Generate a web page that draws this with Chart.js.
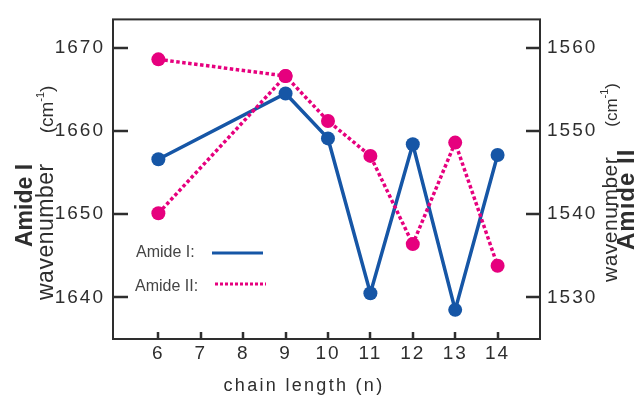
<!DOCTYPE html>
<html>
<head>
<meta charset="utf-8">
<script src="https://cdn.jsdelivr.net/npm/chart.js@4"></script>
<style>
  body { margin: 0; background: #fff; }
  canvas { display: block; }
</style>
</head>
<body>
<canvas id="chart" width="635" height="396"></canvas>
<script>
// chain length on x, Amide I on the left axis, Amide II on the right axis
const chainLength = [6, 9, 10, 11, 12, 13, 14];
const amideI = [1656.6, 1664.5, 1659.1, 1640.5, 1658.4, 1638.5, 1657.1];
const amideII = [1558.6, 1556.6, 1551.2, 1547.0, 1536.4, 1548.6, 1533.8];
// second Amide II branch (n = 6 low point joined to n = 9)
const amideIIBranchX = [6, 9];
const amideIIBranch = [1540.1, 1556.6];

const xTicks = [6, 7, 8, 9, 10, 11, 12, 13, 14];
const leftTicks = [1640, 1650, 1660, 1670];
const rightTicks = [1530, 1540, 1550, 1560];

const blue = '#1656a6';
const pink = '#e6007e';
const ink = '#2e2e2e';

function toPoints(xs, ys) {
  return xs.map((x, i) => ({ x: x, y: ys[i] }));
}

// tick labels in the picture are loosely spaced
const spacing = {
  id: 'spacing',
  beforeLayout(chart) { chart.ctx.letterSpacing = '2px'; },
  beforeDraw(chart) { chart.ctx.letterSpacing = '2px'; }
};

function rotatedText(ctx, text, x, y, font, letterSp) {
  ctx.save();
  ctx.translate(x, y);
  ctx.rotate(-Math.PI / 2);
  ctx.font = font;
  ctx.letterSpacing = letterSp || '0px';
  ctx.textAlign = 'left';
  ctx.textBaseline = 'alphabetic';
  ctx.fillText(text, 0, 0);
  const w = ctx.measureText(text).width;
  ctx.restore();
  return w;
}

// "wavenumber  (cm-1)" along a vertical baseline, going up from y
function wavenumberTitle(ctx, x, y, size) {
  let w = rotatedText(ctx, 'wavenumber', x, y, size + 'px "Liberation Sans", Arial', '0.5px');
  y -= w + 30;
  w = rotatedText(ctx, '(cm', x, y, (size - 4) + 'px "Liberation Sans", Arial');
  y -= w;
  w = rotatedText(ctx, '-1', x - 9, y, '11px "Liberation Sans", Arial');
  y -= w;
  rotatedText(ctx, ')', x, y, (size - 4) + 'px "Liberation Sans", Arial');
}

const decor = {
  id: 'decor',
  beforeDatasetsDraw(chart) {
    const { ctx, chartArea: a, scales } = chart;
    ctx.save();
    ctx.strokeStyle = ink;
    ctx.lineWidth = 2;
    ctx.strokeRect(a.left, a.top, a.right - a.left, a.bottom - a.top);

    ctx.lineWidth = 2.5;
    ctx.beginPath();
    leftTicks.forEach(v => {
      const y = Math.round(scales.yL.getPixelForValue(v));
      ctx.moveTo(a.left, y); ctx.lineTo(a.left + 15, y);
    });
    rightTicks.forEach(v => {
      const y = Math.round(scales.yR.getPixelForValue(v));
      ctx.moveTo(a.right, y); ctx.lineTo(a.right - 14, y);
    });
    xTicks.forEach(v => {
      const x = Math.round(scales.x.getPixelForValue(v));
      ctx.moveTo(x, a.bottom); ctx.lineTo(x, a.bottom - 7);
    });
    ctx.stroke();
    ctx.restore();
  },
  afterDatasetsDraw(chart) {
    const ctx = chart.ctx;
    ctx.save();
    ctx.letterSpacing = '0px';
    // legend inside the plot
    ctx.font = '16px "Liberation Sans", Arial';
    ctx.fillStyle = '#444';
    ctx.textAlign = 'left';
    ctx.textBaseline = 'alphabetic';
    ctx.fillText('Amide I:', 136, 257);
    ctx.fillText('Amide II:', 135, 291);
    ctx.lineWidth = 3;
    ctx.strokeStyle = blue;
    ctx.beginPath(); ctx.moveTo(212, 253); ctx.lineTo(263, 253); ctx.stroke();
    ctx.strokeStyle = pink;
    ctx.setLineDash([3, 2]);
    ctx.beginPath(); ctx.moveTo(215, 284); ctx.lineTo(266, 284); ctx.stroke();
    ctx.setLineDash([]);

    // x axis title
    ctx.fillStyle = ink;
    ctx.font = '18px "Liberation Sans", Arial';
    ctx.letterSpacing = '2.3px';
    ctx.textAlign = 'center';
    ctx.fillText('chain length (n)', 304, 391);
    ctx.restore();

    ctx.save();
    ctx.fillStyle = ink;
    // left axis title
    rotatedText(ctx, 'Amide I', 32, 247, 'bold 23px "Liberation Sans", Arial');
    wavenumberTitle(ctx, 53, 300, 23);
    // right axis title
    wavenumberTitle(ctx, 617, 282, 21);
    rotatedText(ctx, 'Amide II', 634, 250, 'bold 24px "Liberation Sans", Arial', '1px');
    ctx.restore();
  }
};

const lineStyle = (color) => ({
  borderColor: color,
  backgroundColor: color,
  borderWidth: 3.5,
  pointRadius: 7,
  pointHoverRadius: 7,
  pointBorderWidth: 0,
  pointBackgroundColor: color,
  tension: 0
});

const plainLabel = (v) => String(v);

new Chart(document.getElementById('chart'), {
  type: 'line',
  data: {
    datasets: [
      Object.assign({ label: 'Amide II', data: toPoints(chainLength, amideII), yAxisID: 'yR', order: 0, borderDash: [3.5, 2.5] }, lineStyle(pink)),
      Object.assign({ label: 'Amide II branch', data: toPoints(amideIIBranchX, amideIIBranch), yAxisID: 'yR', order: 0, borderDash: [3.5, 2.5] }, lineStyle(pink)),
      Object.assign({ label: 'Amide I', data: toPoints(chainLength, amideI), yAxisID: 'yL', order: 1 }, lineStyle(blue))
    ]
  },
  options: {
    responsive: false,
    animation: false,
    devicePixelRatio: 1,
    layout: { padding: { top: 12, left: 0, right: 0, bottom: 0 } },
    plugins: {
      legend: { display: false },
      tooltip: { enabled: false }
    },
    scales: {
      x: {
        type: 'linear',
        min: 4.93,
        max: 15,
        afterBuildTicks: (s) => { s.ticks = xTicks.map(v => ({ value: v })); },
        afterFit: (s) => { s.height = 57; },
        grid: { display: false, drawTicks: false },
        border: { display: false },
        ticks: { color: ink, padding: 3, callback: plainLabel, font: { family: '"Liberation Sans", Arial', size: 19 } }
      },
      yL: {
        type: 'linear',
        position: 'left',
        min: 1635,
        max: 1673.4,
        afterBuildTicks: (s) => { s.ticks = leftTicks.map(v => ({ value: v })); },
        afterFit: (s) => { s.width = 113; },
        grid: { display: false, drawTicks: false },
        border: { display: false },
        ticks: { color: ink, padding: 8, callback: plainLabel, font: { family: '"Liberation Sans", Arial', size: 19 } }
      },
      yR: {
        type: 'linear',
        position: 'right',
        min: 1525,
        max: 1563.4,
        afterBuildTicks: (s) => { s.ticks = rightTicks.map(v => ({ value: v })); },
        afterFit: (s) => { s.width = 95; },
        grid: { display: false, drawTicks: false },
        border: { display: false },
        ticks: { color: ink, padding: 7, callback: plainLabel, font: { family: '"Liberation Sans", Arial', size: 19 } }
      }
    }
  },
  plugins: [spacing, decor]
});
</script>
</body>
</html>
